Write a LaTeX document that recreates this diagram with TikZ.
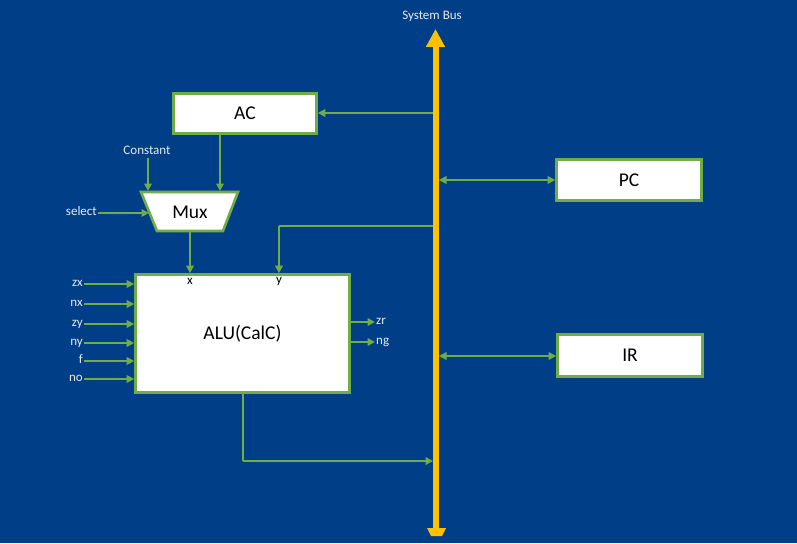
\documentclass[tikz,border=0pt]{standalone}
\usepackage{fontspec}
\setmainfont{Carlito}
\usetikzlibrary{arrows.meta}
\definecolor{bg}{HTML}{003F87}
\definecolor{grn}{HTML}{70AD47}
\definecolor{busc}{HTML}{FFC000}
\definecolor{lblc}{HTML}{E6EAF0}
\begin{document}
\begin{tikzpicture}[x=1pt,y=-1pt,
  blk/.style={draw=grn, line width=2.6pt, fill=white, text=black, inner sep=0pt,
    font=\fontsize{19.5}{22}\selectfont},
  lbl/.style={text=lblc, font=\fontsize{13}{15}\selectfont, inner sep=1pt,
    text height=0.68em, text depth=0.2em},
  inl/.style={text=black, font=\fontsize{13}{15}\selectfont, inner sep=1pt},
  garr/.style={draw=grn, line width=2.4pt, -{Triangle[length=7.5pt,width=7.5pt]}},
  garrr/.style={draw=grn, line width=2.4pt, {Triangle[length=7.5pt,width=7.5pt]}-{Triangle[length=7.5pt,width=7.5pt]}},
  busline/.style={draw=busc, line width=6pt, -{Triangle[length=18pt,width=18pt]}}
]
\useasboundingbox (0,0) rectangle (797,543);
\fill[bg] (0,0) rectangle (797,543);

% blocks
\node[blk, minimum width=143pt, minimum height=40pt] (ac) at (245,113.5) {AC};
\node[blk, minimum width=145pt, minimum height=41pt] (pc) at (629,180) {PC};
\node[blk, minimum width=145pt, minimum height=42pt] (ir) at (630,355.5) {IR};
\node[blk, minimum width=214pt, minimum height=118pt] (alu) at (242.5,333.5) {ALU(CalC)};
\draw[draw=grn, line width=2.6pt, fill=white] (141,192) -- (238,192) -- (223,231) -- (157,231) -- cycle;
\node[text=black, font=\fontsize{19.5}{22}\selectfont, inner sep=0pt] (mux) at (190,212) {Mux};
\coordinate (muxC) at (148,191);
\coordinate (muxA) at (220,191);
\coordinate (muxS) at (149,213);
\coordinate (muxB) at (190,232);

% ALU port labels
\node[inl] (xl) at (190,281) {x};
\node[inl] (yl) at (279,281) {y};

% labels
\node[lbl] (const) at (147,152) {Constant};
\node[lbl, anchor=east] (sel) at (98,213) {select};
\node[lbl] (sysbus) at (432,17) {System Bus};

% inputs
\foreach \n/\t/\yy in {zx/zx/284, nx/nx/304, zy/zy/324, ny/ny/343, f/f/361, no/no/379}{
  \node[lbl, anchor=east] (\n) at (84,\yy) {\t};
  \draw[garr] (\n.east) -- (\n.east -| alu.west);
}
% outputs
\node[lbl, anchor=west] (zr) at (375,322) {zr};
\node[lbl, anchor=west] (ng) at (375,342) {ng};
\draw[garr] (zr.west -| alu.east) -- (zr.west);
\draw[garr] (ng.west -| alu.east) -- (ng.west);

% mux connections
\draw[garr] (muxC |- const.south) -- (muxC);
\draw[garr] (muxA |- ac.south) -- (muxA);
\draw[garr] (sel.east) -- (sel.east -| muxS);
\draw[garr] (muxB) -- (muxB |- alu.north);

% bus coordinates
\coordinate (busAC) at (433,113);
\coordinate (busPC) at (439,180);
\coordinate (busY) at (436,226);
\coordinate (busIR) at (439,356);
\coordinate (busO) at (433,461);
\coordinate (ycorner) at (279,226);
\coordinate (ocorner) at (243,461);
\coordinate (btop) at (435.5,29);
\coordinate (bbot) at (435.5,529);

\draw[garr] (busAC) -- (busAC -| ac.east);
\draw[draw=grn, line width=2.4pt] (busY) -- (ycorner);
\draw[garr] (ycorner) -- (ycorner |- alu.north);
\draw[draw=grn, line width=2.4pt] (ocorner |- alu.south) -- (ocorner);
\draw[garr] (ocorner) -- (busO);

% bus
\draw[busline] (bbot) -- (btop);
\fill[busc] (427,528) -- (446,528) -- (442,536) -- (431,536) -- cycle;

\draw[garrr] (busPC) -- (busPC -| pc.west);
\draw[garrr] (busIR) -- (busIR -| ir.west);
\end{tikzpicture}
\end{document}
